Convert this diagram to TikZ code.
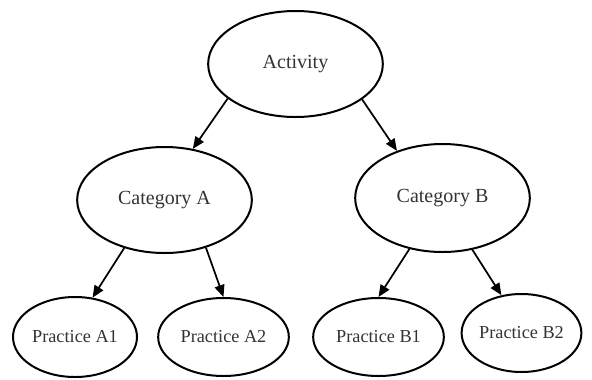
\documentclass[tikz,border=0pt]{standalone}
\usepackage{fontspec}
\setmainfont{Liberation Serif}
\usepackage{xcolor}
\usepackage{tikz}
\usetikzlibrary{shapes.geometric, arrows.meta}

\definecolor{labelgray}{HTML}{333333}

\begin{document}
\begin{tikzpicture}[x=0.75pt, y=-0.75pt,
    bubble/.style={ellipse, draw, line width=1.5pt, inner sep=0pt, text=labelgray},
    upper/.style={bubble, font=\fontsize{15}{18}\selectfont},
    leaf/.style={bubble, font=\fontsize{13.7}{16}\selectfont},
    link/.style={-{Triangle[length=9pt,width=7.5pt]}, line width=1.3pt}]
    \useasboundingbox (0,0) rectangle (592,379);

    % Root
    \node[upper, minimum width=131pt, minimum height=79.5pt] (act) at (295.5,64) {Activity};

    % Categories
    \node[upper, minimum width=131pt, minimum height=79.5pt] (catA) at (164.5,200) {Category A};
    \node[upper, minimum width=131pt, minimum height=81pt] (catB) at (442.5,198) {Category B};

    % Practices
    \node[leaf, minimum width=93pt, minimum height=60pt] (pA1) at (75,337) {Practice A1};
    \node[leaf, minimum width=98pt, minimum height=58.5pt] (pA2) at (223.5,337) {Practice A2};
    \node[leaf, minimum width=98pt, minimum height=58.5pt] (pB1) at (378.5,337) {Practice B1};
    \node[leaf, minimum width=86pt, minimum height=58.5pt] (pB2) at (521.5,333) {Practice B2};

    % Arrows
    \draw[link] (act.207) -- (catA.61);
    \draw[link] (act.332) -- (catB.134);
    \draw[link] (catA.230) -- (pA1.66);
    \draw[link] (catA.311) -- (pA2.90);
    \draw[link] (catB.237) -- (pB1.90);
    \draw[link] (catB.300) -- (pB2.118);
\end{tikzpicture}
\end{document}
